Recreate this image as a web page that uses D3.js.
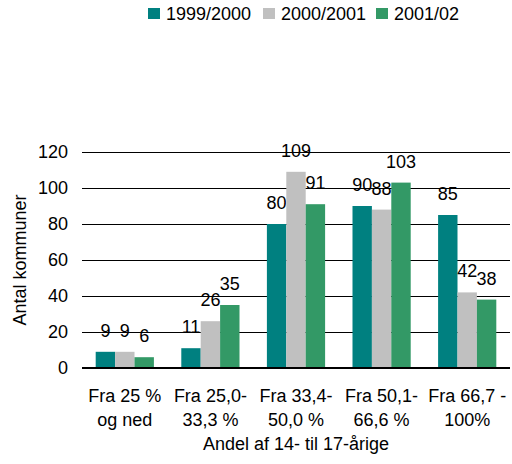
<!DOCTYPE html>
<html><head><meta charset="utf-8">
<script src="https://cdn.jsdelivr.net/npm/d3@7"></script>
<style>body{margin:0;background:#fff}svg{display:block;font-family:Arial,"Liberation Sans",sans-serif}</style>
</head><body>
<svg id="c" width="512" height="464"></svg>
<script>
const categories = [["Fra 25 %","og ned"],["Fra 25,0-","33,3 %"],["Fra 33,4-","50,0 %"],["Fra 50,1-","66,6 %"],["Fra 66,7 -","100%"]];
const seriesNames = ["1999/2000","2000/2001","2001/02"];
const s1999 = [9,11,80,90,85];
const s2000 = [9,26,109,88,42];
const s2001 = [6,35,91,103,38];
const yTicks = [0,20,40,60,80,100,120];
const colors = ["#008080","#C0C0C0","#339966"];
const series = [s1999,s2000,s2001];
const FS = "18px";

const svg = d3.select("#c");
const L=82,R=510,T=152,B=368;
const x0 = d3.scaleBand().domain(d3.range(categories.length)).range([L,R]).paddingInner(0.32).paddingOuter(0.16);
const x1 = d3.scaleBand().domain(d3.range(series.length)).range([0,x0.bandwidth()]);
const y = d3.scaleLinear().domain([0,120]).range([B,T]);

const yAxis = d3.axisLeft(y).tickValues(yTicks).tickSize(-(R-L)).tickPadding(14).tickFormat(d3.format("d"));
const ga = svg.append("g").attr("transform",`translate(${L},0)`).call(yAxis);
ga.select(".domain").remove();
ga.selectAll(".tick line").attr("stroke","#000").attr("stroke-width",1).attr("shape-rendering","crispEdges");
ga.selectAll(".tick text").attr("font-size",FS).attr("fill","#000").attr("font-family","Arial, 'Liberation Sans', sans-serif");

series.forEach((s,si)=>{
  svg.append("g").selectAll("rect").data(s).join("rect")
    .attr("x",(d,i)=>x0(i)+x1(si))
    .attr("width",x1.bandwidth())
    .attr("y",d=>y(d))
    .attr("height",d=>B-y(d))
    .attr("fill",colors[si]);
  svg.append("g").selectAll("text").data(s).join("text")
    .attr("x",(d,i)=>x0(i)+x1(si)+x1.bandwidth()/2)
    .attr("y",d=>y(d)-15)
    .attr("text-anchor","middle")
    .attr("font-size",FS)
    .text(d=>d);
});

svg.append("line").attr("x1",L).attr("x2",R).attr("y1",B).attr("y2",B).attr("stroke","#000").attr("stroke-width",2);

const cl = svg.append("g").selectAll("text").data(categories).join("text")
  .attr("text-anchor","middle").attr("font-size",FS);
cl.each(function(d,i){
  const t=d3.select(this);
  d.forEach((line,li)=>{
    t.append("tspan").attr("x",x0(i)+x0.bandwidth()/2).attr("y",402+li*24).text(line);
  });
});

svg.append("text").attr("x",(L+R)/2).attr("y",450).attr("text-anchor","middle").attr("font-size",FS).text("Andel af 14- til 17-årige");
svg.append("text").attr("transform",`translate(26,${(T+B)/2}) rotate(-90)`).attr("text-anchor","middle").attr("font-size",FS).text("Antal kommuner");

const legX = [148,263,376];
seriesNames.forEach((n,i)=>{
  svg.append("rect").attr("x",legX[i]).attr("y",8).attr("width",12).attr("height",11).attr("fill",colors[i]);
  svg.append("text").attr("x",legX[i]+18).attr("y",20).attr("font-size",FS).text(n);
});
</script>
</body></html>
